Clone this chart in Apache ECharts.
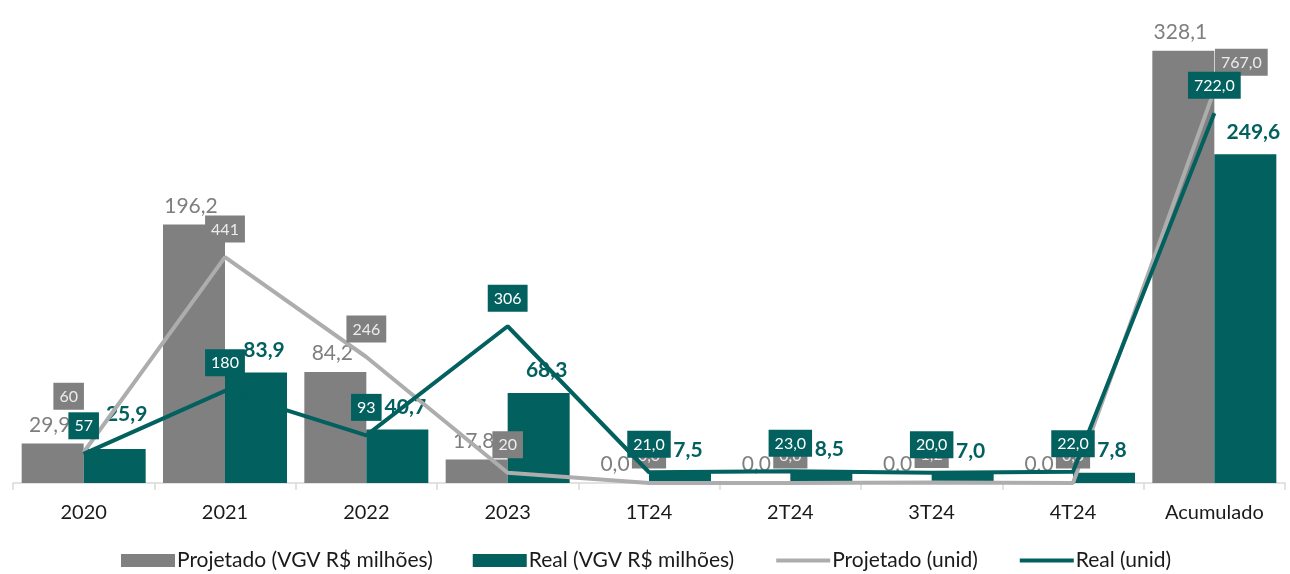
<!DOCTYPE html>
<html>
<head>
<meta charset="utf-8">
<script src="https://cdn.jsdelivr.net/npm/echarts@6/dist/echarts.min.js"></script>
<style>
  html, body { margin: 0; padding: 0; background: #fff; }
  #chart { width: 1290px; height: 574px; }
</style>
</head>
<body>
<div id="chart"></div>
<script>
const categories = ['2020', '2021', '2022', '2023', '1T24', '2T24', '3T24', '4T24', 'Acumulado'];
const projetadoVgv = [29.9, 196.2, 84.2, 17.8, 0.0, 0.0, 0.0, 0.0, 328.1];
const realVgv = [25.9, 83.9, 40.7, 68.3, 7.5, 8.5, 7.0, 7.8, 249.6];
const projetadoUnid = [60, 441, 246, 20, 0, 0, 1.2, 0, 767];
const realUnid = [57, 180, 93, 306, 21, 23, 20, 22, 722];

const grayBar = '#808080';
const teal = '#02605f';
const grayLine = '#adadad';
const font = 'Lato';

// rótulos deslocados à mão no original
const projUnidShift = { 0: [-15, -28], 8: [27, 0] };
const realVgvShift = { 0: [12, -12] };

// vírgula como separador decimal
function dec (v) {
  return v.toFixed(1).replace('.', ',');
}
// anos sem casas decimais, trimestres e acumulado com uma
function unid (p) {
  return p.dataIndex < 4 ? String(Math.round(p.value)) : dec(p.value);
}
function withShift (values, shift) {
  return values.map((v, i) => shift[i] ? { value: v, label: { offset: shift[i] } } : v);
}

const chart = echarts.init(document.getElementById('chart'));
chart.setOption({
  animation: false,
  textStyle: { fontFamily: font },
  grid: { left: 13, right: 5, top: 22, bottom: 91 },
  legend: {
    left: 116,
    top: 545,
    itemWidth: 54,
    itemHeight: 13,
    itemGap: 40,
    lineStyle: { width: 4 },
    textStyle: { fontSize: 21, color: '#1a1a1a', fontFamily: font, padding: [0, 0, 0, -3] },
    data: [
      { name: 'Projetado (VGV R$ milhões)', icon: 'rect' },
      { name: 'Real (VGV R$ milhões)', icon: 'rect' },
      { name: 'Projetado (unid)', itemStyle: { opacity: 0 } },
      { name: 'Real (unid)', itemStyle: { opacity: 0 } }
    ]
  },
  xAxis: {
    type: 'category',
    data: categories,
    axisLine: { lineStyle: { color: '#d9d9d9', width: 1.5 } },
    axisTick: { show: true, length: 7, lineStyle: { color: '#d9d9d9', width: 1.5 } },
    axisLabel: { fontSize: 20, color: '#1a1a1a', margin: 20, fontFamily: font }
  },
  yAxis: [
    { type: 'value', min: 0, max: 350, show: false, splitLine: { show: false } },
    { type: 'value', min: 0, max: 900, show: false, splitLine: { show: false } }
  ],
  series: [
    {
      name: 'Projetado (VGV R$ milhões)',
      type: 'bar',
      barWidth: 62,
      barGap: '0%',
      itemStyle: { color: grayBar },
      label: {
        show: true,
        position: 'top',
        distance: 8,
        offset: [-3, 0],
        fontSize: 21,
        color: '#7f7f7f',
        fontFamily: font,
        formatter: p => dec(p.value)
      },
      data: projetadoVgv
    },
    {
      name: 'Real (VGV R$ milhões)',
      type: 'bar',
      barWidth: 62,
      barGap: '0%',
      itemStyle: { color: teal },
      label: {
        show: true,
        position: 'top',
        distance: 12,
        offset: [8, 0],
        fontSize: 21,
        fontWeight: 'bold',
        color: teal,
        fontFamily: font,
        formatter: p => dec(p.value)
      },
      data: withShift(realVgv, realVgvShift)
    },
    {
      name: 'Projetado (unid)',
      type: 'line',
      yAxisIndex: 1,
      symbol: 'circle',
      symbolSize: 1,
      z: 3,
      lineStyle: { color: grayLine, width: 4 },
      itemStyle: { color: grayLine },
      label: {
        show: true,
        position: 'top',
        distance: 14,
        fontSize: 16,
        color: '#ececec',
        backgroundColor: grayBar,
        padding: [6, 6, 5, 6],
        fontFamily: font,
        formatter: unid
      },
      data: withShift(projetadoUnid, projUnidShift)
    },
    {
      name: 'Real (unid)',
      type: 'line',
      yAxisIndex: 1,
      symbol: 'circle',
      symbolSize: 1,
      z: 4,
      lineStyle: { color: teal, width: 4 },
      itemStyle: { color: teal },
      label: {
        show: true,
        position: 'top',
        distance: 14,
        fontSize: 16,
        color: '#ffffff',
        backgroundColor: teal,
        padding: [6, 6, 5, 6],
        fontFamily: font,
        formatter: unid
      },
      data: realUnid
    }
  ]
});
</script>
</body>
</html>
